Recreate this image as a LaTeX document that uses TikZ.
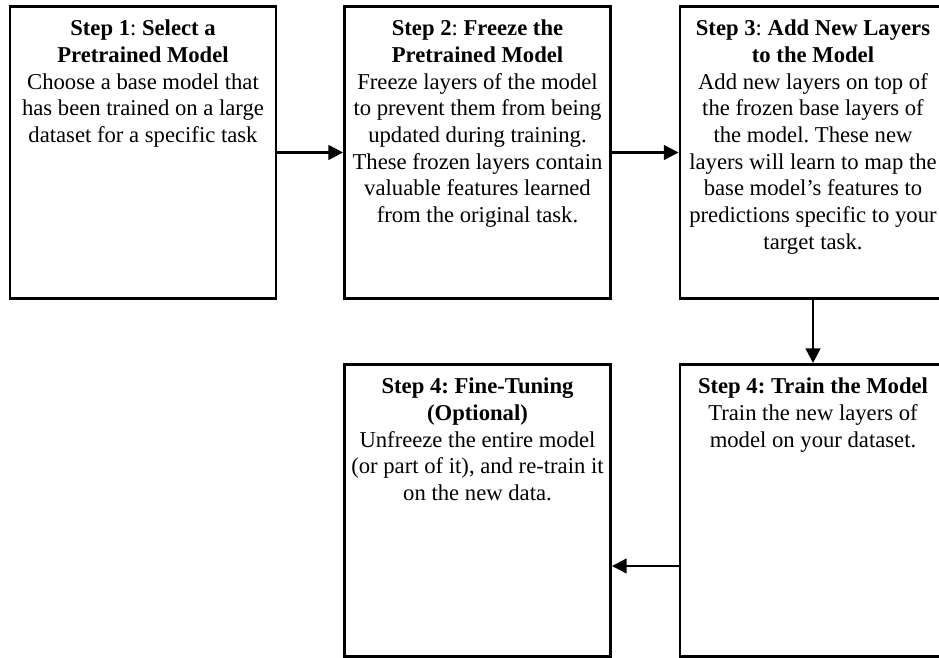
\documentclass[tikz,border=0pt]{standalone}
\usepackage{fontspec}
\setmainfont{Liberation Serif}
\usetikzlibrary{arrows.meta}
\frenchspacing

\begin{document}
\begin{tikzpicture}[x=0.75pt, y=-0.75pt,
      stepbox/.style = {shape=rectangle, draw, line width=2.2pt,
        minimum width=199.5pt, minimum height=219pt, inner sep=0pt},
      steptext/.style = {anchor=north, align=center, inner sep=0pt,
        font=\fontsize{17}{20}\selectfont},
      flow/.style = {line width=1.8pt, -{Triangle[length=11pt,width=11pt]}}]
    \useasboundingbox (0,0) rectangle (939,657);
    % top row
    \node[stepbox] (s1) at (143,152.5) {};
    \node[stepbox] (s2) at (477.5,152.5) {};
    \node[stepbox] (s3) at (813,152.5) {};
    % bottom row
    \node[stepbox] (s4) at (813,510.5) {};
    \node[stepbox] (s5) at (477.5,510.5) {};
    \node[steptext] (t1) at ([yshift=-11pt]s1.north)
      {\textbf{Step 1}: \textbf{Select a}\\ \textbf{Pretrained Model}\\
       Choose a base model that\\ has been trained on a large\\
       dataset for a specific task};
    \node[steptext] (t2) at ([yshift=-11pt]s2.north)
      {\textbf{Step 2}: \textbf{Freeze the}\\ \textbf{Pretrained Model}\\
       Freeze layers of the model\\ to prevent them from being\\
       updated during training.\\ These frozen layers contain\\
       valuable features learned\\ from the original task.};
    \node[steptext] (t3) at ([yshift=-11pt]s3.north)
      {\textbf{Step 3}: \textbf{Add New Layers}\\ \textbf{to the Model}\\
       Add new layers on top of\\ the frozen base layers of\\
       the model. These new\\ layers will learn to map the\\
       base model’s features to\\ predictions specific to your\\
       target task.};
    \node[steptext] (t4) at ([yshift=-11pt]s4.north)
      {\textbf{Step 4: Train the Model}\\
       Train the new layers of\\ model on your dataset.};
    \node[steptext] (t5) at ([yshift=-11pt]s5.north)
      {\textbf{Step 4: Fine-Tuning}\\ \textbf{(Optional)}\\
       Unfreeze the entire model\\ (or part of it), and re-train it\\
       on the new data.};
    \draw[flow] (s1) -- (s2);
    \draw[flow] (s2) -- (s3);
    \draw[flow] (s3) -- (s4);
    \draw[flow] (s4.west |- 0,566) -- (s5.east |- 0,566);
\end{tikzpicture}
\end{document}
